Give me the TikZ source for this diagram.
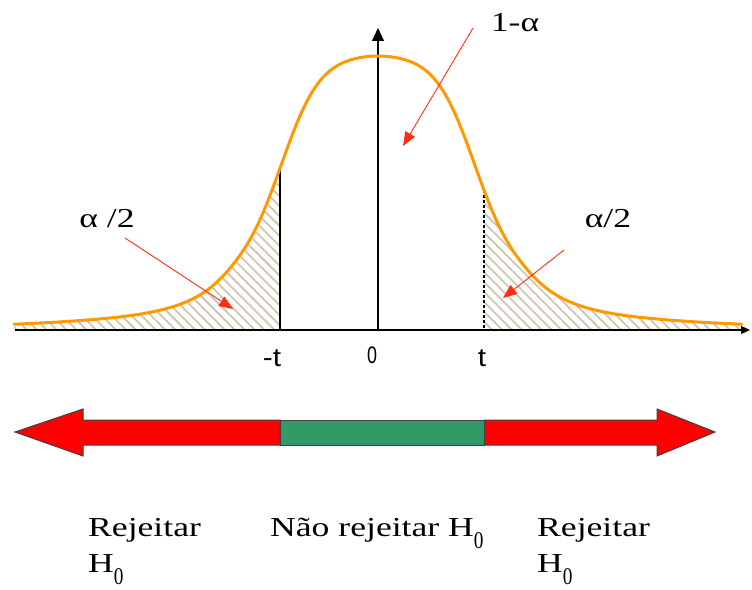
\documentclass[tikz,border=0pt]{standalone}
\usepackage{fontspec}
\setmainfont{Liberation Serif}
\newfontfamily\axfont{Liberation Sans}
\usepackage{graphicx}
\usetikzlibrary{arrows.meta,patterns.meta}
\definecolor{curveor}{RGB}{255,153,0}
\definecolor{hatchc}{RGB}{208,198,176}
\definecolor{zgreen}{RGB}{51,153,102}
\definecolor{zred}{RGB}{255,0,0}
\definecolor{arrred}{RGB}{255,45,20}
\newcommand{\sx}[1]{\scalebox{1.3}[1]{#1}}
\newcommand{\hzero}{H\raisebox{-12bp}{\fontsize{24}{28}\selectfont\scalebox{0.62}[1]{0}}}
\tikzset{
  lbl/.style={font=\fontsize{27.5}{32}\selectfont, inner sep=0pt},
  axlbl/.style={font=\axfont\fontsize{26}{30}\selectfont, inner sep=0pt},
  hatch/.style={pattern={Lines[angle=-45,distance=7bp,line width=1.8bp]}, pattern color=hatchc},
  redarrow/.style={draw=arrred, line width=0.9bp, -{Triangle[length=14bp,width=11bp]}},
  axisline/.style={draw=black, line width=1.1bp},
  barpart/.style={draw=black!75, line width=1bp},
  bell/.style={draw=curveor, line width=3bp, line join=round, line cap=round},
  declare function={
    sqq(\u)=\u*\u;
    bellh(\u)=274/(1+0.18*\u*\u+0.595*\u*\u*\u*\u*abs(\u))
      +17*(1-exp(-min(sqq(sqq(sqq(\u/1.3))),20)))*exp(-sqq(\u/3.3));
  }
}
\begin{document}
\begin{tikzpicture}[x=1bp,y=-1bp]
\useasboundingbox (0,0) rectangle (752,590);
% hatched tails, clipped to the area under the curve
\begin{scope}
\clip (14,330) -- plot[domain=-3.64:3.64, samples=182, smooth]
  ({378+100*\x}, {330-bellh(\x)}) -- (742,330) -- cycle;
\fill[hatch] (10,0) rectangle (280,331);
\fill[hatch] (484,0) rectangle (745,331);
\end{scope}
% axes
\coordinate (xl) at (15,330);
\coordinate (xr) at (750,330);
\coordinate (yb) at (378,330);
\coordinate (yt) at (378,28);
\draw[axisline, -{Triangle[length=9bp,width=8bp]}] (xl) -- (xr);
\draw[axisline, -{Triangle[length=13bp,width=12bp]}] (yb) -- (yt);
% -t and t lines
\coordinate (mtt) at (280,170);
\coordinate (mtb) at (280,330);
\coordinate (ptt) at (484,190);
\coordinate (ptb) at (484,330);
\draw[axisline] (mtt) -- (mtb);
\draw[axisline, dashed, dash pattern=on 3bp off 2bp] (ptt) -- (ptb);
% bell curve
\draw[bell] plot[domain=-3.64:3.64, samples=182, smooth]
  ({378+100*\x}, {330-bellh(\x)});
% labels
\node[lbl] (top) at (515,23) {\sx{1-α}};
\node[lbl] (aleft) at (107,219) {\sx{α /2}};
\node[lbl] (aright) at (608,219) {\sx{α/2}};
\coordinate (ts) at (473,28);
\coordinate (te) at (403,146);
\coordinate (ls) at (125,238);
\coordinate (le) at (233,309);
\coordinate (rs) at (564,250);
\coordinate (re) at (503,298);
\draw[redarrow] (ts) -- (te);
\draw[redarrow] (ls) -- (le);
\draw[redarrow] (rs) -- (re);
\node[axlbl] (mt) at (272,358) {\scalebox{1.15}[1]{-t}};
\node[axlbl, font=\axfont\fontsize{24}{28}\selectfont] (zero) at (372,355) {\scalebox{0.75}[1]{0}};
\node[axlbl] (pt) at (482,358) {\scalebox{1.15}[1]{t}};
% decision bar
\draw[barpart, fill=zred] (15,432) -- (83,409) -- (83,420) -- (280,420) -- (280,445) -- (83,445) -- (83,456) -- cycle;
\draw[barpart, fill=zred] (484,420) -- (657,420) -- (657,409) -- (715,432) -- (657,456) -- (657,445) -- (484,445) -- cycle;
\draw[barpart, fill=zgreen] (280,420) rectangle (484,445);
% bottom texts
\node[lbl, anchor=base west] (rl1) at (88,536) {\sx{Rejeitar}};
\node[lbl, anchor=base west] (rl2) at (88,572) {\sx{\hzero}};
\node[lbl, anchor=base west] (nr) at (270,536) {\sx{Não rejeitar \hzero}};
\node[lbl, anchor=base west] (rr1) at (537,536) {\sx{Rejeitar}};
\node[lbl, anchor=base west] (rr2) at (537,572) {\sx{\hzero}};
\end{tikzpicture}
\end{document}
